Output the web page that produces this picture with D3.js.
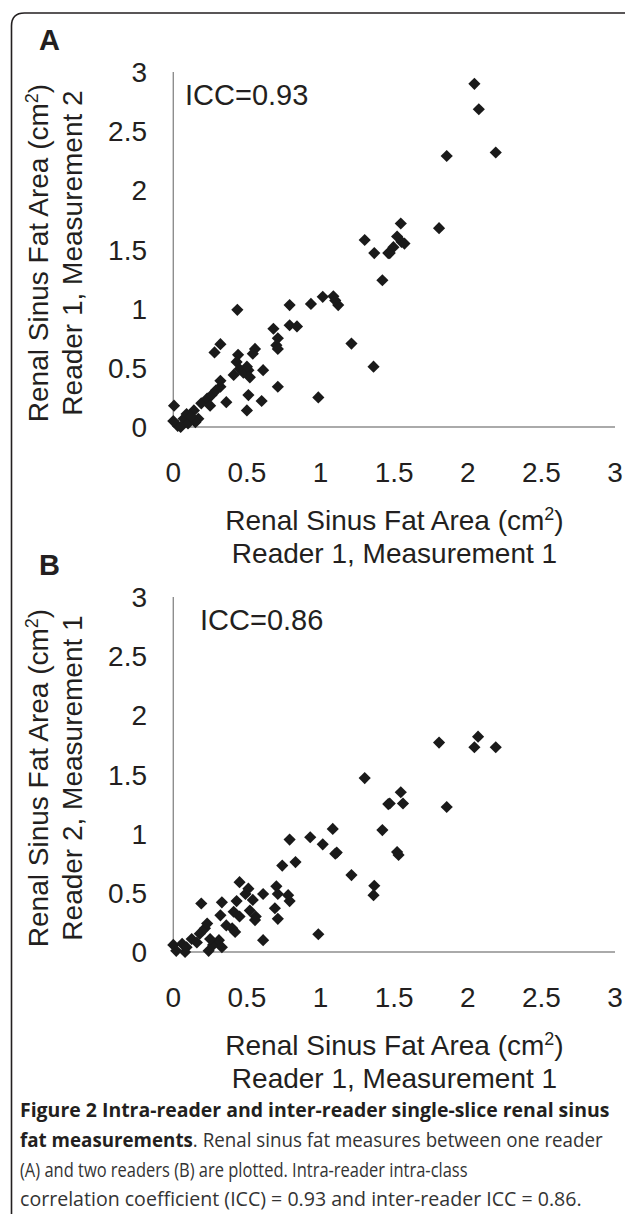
<!DOCTYPE html>
<html>
<head>
<meta charset="utf-8">
<script src="https://cdn.jsdelivr.net/npm/d3@7"></script>
<style>
html,body{margin:0;padding:0;background:#fff;}
svg{display:block;}
</style>
</head>
<body>
<svg id="chart" width="625" height="1214"></svg>
<script>
// ---------- data ----------
const tickValues = [0, 0.5, 1, 1.5, 2, 2.5, 3];
const tickLabels = ["0", "0.5", "1", "1.5", "2", "2.5", "3"];

// Panel A: Reader 1 measurement 1 (x) vs measurement 2 (y)
const aX = [0.005,0.03,0.0,0.07,0.09,0.05,0.14,0.17,0.19,0.23,0.26,0.25,0.15,0.10,0.12,
  0.32,0.32,0.29,0.36,0.32,0.28,0.435,0.41,0.44,0.43,0.45,0.476,0.51,0.52,0.50,0.555,0.54,0.61,0.51,0.50,0.60,
  0.71,0.68,0.71,0.70,0.71,0.79,0.79,0.84,0.935,0.985,1.015,1.087,1.12,1.10,1.21,1.30,1.365,1.46,1.42,1.36,
  2.045,2.075,1.857,2.19,1.545,1.805,1.52,1.55,1.495,1.47,1.57];
const aY = [0.18,0.01,0.05,0.07,0.11,0.0,0.14,0.07,0.2,0.24,0.27,0.18,0.04,0.03,0.09,
  0.34,0.39,0.31,0.21,0.70,0.63,0.99,0.44,0.61,0.55,0.49,0.46,0.48,0.42,0.51,0.66,0.62,0.48,0.27,0.14,0.22,
  0.34,0.83,0.75,0.69,0.66,1.03,0.86,0.85,1.04,0.25,1.10,1.105,1.03,1.07,0.705,1.58,1.47,1.47,1.24,0.51,
  2.90,2.685,2.29,2.32,1.72,1.68,1.61,1.565,1.52,1.47,1.55];

// Panel B: Reader 1 measurement 1 (x) vs Reader 2 measurement 1 (y)
const bX = [0.0,0.02,0.06,0.09,0.125,0.16,0.18,0.215,0.24,0.27,0.31,0.33,0.25,0.08,
  0.19,0.23,0.32,0.33,0.36,0.40,0.42,0.41,0.43,0.45,0.45,0.49,0.51,0.52,0.54,0.555,0.56,0.61,0.61,
  0.70,0.71,0.69,0.71,0.78,0.79,0.74,0.83,0.79,0.93,0.985,1.015,1.083,1.11,1.10,1.21,1.30,1.365,1.36,1.42,1.46,
  1.805,2.07,2.045,2.19,1.857,1.545,1.47,1.56,1.52,1.53];
const bY = [0.06,0.01,0.07,0.04,0.11,0.08,0.155,0.2,0.01,0.06,0.1,0.04,0.11,0.0,
  0.41,0.24,0.31,0.42,0.225,0.2,0.17,0.34,0.43,0.59,0.30,0.49,0.535,0.35,0.44,0.27,0.3,0.49,0.10,
  0.555,0.49,0.37,0.28,0.48,0.43,0.73,0.76,0.95,0.97,0.15,0.91,1.04,0.84,0.83,0.65,1.47,0.56,0.48,1.03,1.25,
  1.77,1.82,1.73,1.73,1.225,1.35,1.255,1.255,0.845,0.82];

const panels = [
  {letter: "A", icc: "ICC=0.93", iccX: 185, xs: aX, ys: aY,
   yTitle2: "Reader 1, Measurement 2", top: 72, bottom: 427},
  {letter: "B", icc: "ICC=0.86", iccX: 200, xs: bX, ys: bY,
   yTitle2: "Reader 2, Measurement 1", top: 597, bottom: 952}
];

const captionLines = [
  {bold: "Figure 2 Intra-reader and inter-reader single-slice renal sinus", rest: "", w: 590},
  {bold: "fat measurements", rest: ". Renal sinus fat measures between one reader", w: 583},
  {bold: "", rest: "(A) and two readers (B) are plotted. Intra-reader intra-class", w: 448},
  {bold: "", rest: "correlation coefficient (ICC) = 0.93 and inter-reader ICC = 0.86.", w: 562}
];

// ---------- drawing ----------
const svg = d3.select("#chart");
const FONT = "'Liberation Sans', Arial, sans-serif";
const TXT = "#231f20";

// frame
svg.append("path")
  .attr("d", "M11.5,1214 V26 Q11.5,13 24.5,13 H625")
  .attr("fill", "none").attr("stroke", "#231f20").attr("stroke-width", 1.6);

const x = d3.scaleLinear().domain([0, 3]).range([173.3, 615]);

panels.forEach((p, i) => {
  const off = p.top - 72;
  const y = d3.scaleLinear().domain([0, 3]).range([p.bottom, p.top]);
  const g = svg.append("g");

  // axes lines
  g.append("line").attr("x1", x(0)).attr("x2", x(0)).attr("y1", y(3)).attr("y2", y(0))
    .attr("stroke", "#8e8e8e").attr("stroke-width", 1.4);
  g.append("line").attr("x1", x(0)).attr("x2", x(3)).attr("y1", y(0)).attr("y2", y(0))
    .attr("stroke", "#8e8e8e").attr("stroke-width", 1.4);

  // y tick labels
  g.selectAll(".yt").data(tickValues).enter().append("text")
    .attr("x", 147).attr("y", d => y(d) + 10)
    .attr("text-anchor", "end")
    .attr("font-family", FONT).attr("font-size", 28).attr("fill", TXT)
    .text((d, k) => tickLabels[k]);

  // x tick labels
  g.selectAll(".xt").data(tickValues).enter().append("text")
    .attr("x", d => x(d)).attr("y", y(0) + 55)
    .attr("text-anchor", "middle")
    .attr("font-family", FONT).attr("font-size", 28).attr("fill", TXT)
    .text((d, k) => tickLabels[k]);

  // x title
  const xt1 = g.append("text").attr("x", 394.5).attr("y", 530 + off)
    .attr("text-anchor", "middle").attr("font-family", FONT).attr("font-size", 28).attr("fill", TXT);
  xt1.append("tspan").text("Renal Sinus Fat Area (cm");
  xt1.append("tspan").attr("font-size", 18).attr("dy", -10).text("2");
  xt1.append("tspan").attr("dy", 10).text(")");
  g.append("text").attr("x", 394.5).attr("y", 563 + off)
    .attr("text-anchor", "middle").attr("font-family", FONT).attr("font-size", 28).attr("fill", TXT)
    .text("Reader 1, Measurement 1");

  // y title (rotated)
  const yt1 = g.append("text").attr("transform", `translate(48,${253 + off}) rotate(-90)`)
    .attr("text-anchor", "middle").attr("font-family", FONT).attr("font-size", 28).attr("fill", TXT);
  yt1.append("tspan").text("Renal Sinus Fat Area (cm");
  yt1.append("tspan").attr("font-size", 18).attr("dy", -10).text("2");
  yt1.append("tspan").attr("dy", 10).text(")");
  g.append("text").attr("transform", `translate(82,${253 + off}) rotate(-90)`)
    .attr("text-anchor", "middle").attr("font-family", FONT).attr("font-size", 28).attr("fill", TXT)
    .text(p.yTitle2);

  // panel letter
  g.append("text").attr("x", 49.5).attr("y", 50 + off)
    .attr("text-anchor", "middle").attr("font-family", FONT).attr("font-weight", "bold")
    .attr("font-size", 29).attr("fill", TXT).text(p.letter);

  // ICC
  g.append("text").attr("x", p.iccX).attr("y", 105 + off)
    .attr("font-family", FONT).attr("font-size", 29).attr("fill", TXT).text(p.icc);

  // points
  const sym = d3.symbol().type(d3.symbolSquare).size(74);
  g.selectAll(".pt").data(p.xs.map((v, k) => [v, p.ys[k]])).enter().append("path")
    .attr("d", sym)
    .attr("transform", d => `translate(${x(d[0])},${y(d[1])}) rotate(45)`)
    .attr("fill", "#1a1a1a");
});

// caption: one font size, each line horizontally condensed to its measured width
const capY = [1117, 1147, 1177, 1206];
captionLines.forEach((c, k) => {
  const g = svg.append("g");
  const t = g.append("text").attr("x", 0).attr("y", 0)
    .attr("font-family", "'Open Sans', 'Noto Sans', sans-serif").attr("font-size", 20).attr("fill", TXT);
  if (c.bold) t.append("tspan").attr("font-weight", "bold").text(c.bold);
  if (c.rest) t.append("tspan").attr("fill", "#333").text(c.rest);
  const nat = t.node().getComputedTextLength();
  const s = c.w / nat;
  g.attr("transform", `translate(20,${capY[k]}) scale(${s},1)`);
});
</script>
</body>
</html>
